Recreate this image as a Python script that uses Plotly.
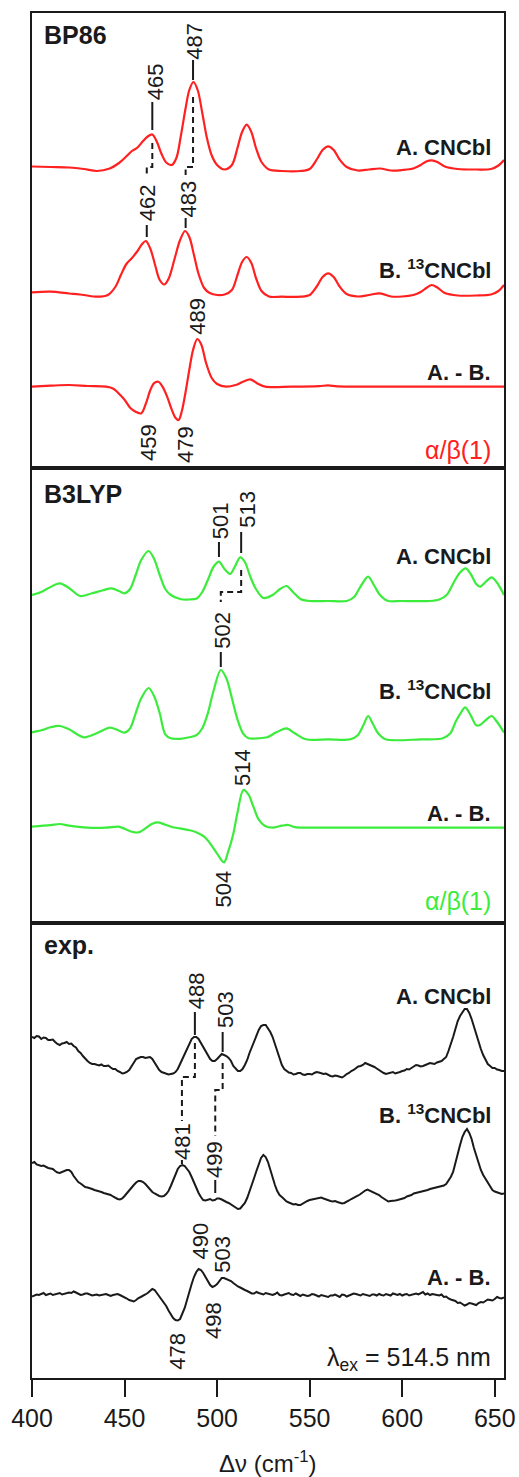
import plotly.graph_objects as go
from plotly.subplots import make_subplots

FONT = "Liberation Sans, Arial, sans-serif"
RED = "#ff2020"
GREEN = "#3cec3c"
BLACK = "#1a1a1a"

# ---------------- BP86 (computed) ----------------
bp_A_x = [400, 410, 420, 428, 435, 442, 447, 451, 454, 457, 460, 462.5, 465, 467.5, 470, 472.5, 475.5, 478,
          480.5, 483, 485, 487.2, 489.5, 492, 494.5, 497, 500, 504, 508, 511, 513.5, 516, 518.5, 521, 524, 528,
          535, 545, 550, 554, 557, 560, 563, 566, 570, 576, 582, 588, 594, 600, 606, 610, 613, 616, 619, 623,
          630, 640, 648, 652, 655]
bp_A = [1.5, 1, 0.5, -1, -3, -0.5, 5, 11.7, 17, 20.5, 27, 31.5, 33.5, 26, 14, 5.5, 3, 10,
        33, 60, 78, 86, 78, 55, 30, 13, 3, -1.5, 3, 20, 36, 43.3, 36, 20, 6, -1.5,
        -3, -3, -1, 9, 18, 21.7, 18, 9, 1, -2.5, -1.5, -0.5, -2.5, -2, -0.5, 3, 6.5, 7.7, 6, 1.5,
        -1, -1.5, -1, 2.5, 8]

bp_B_x = [400, 410, 420, 428, 435, 441, 445, 448, 451, 454, 457, 459.5, 461.5, 464, 466.5, 469, 471.5, 474,
          477, 480, 482.7, 485, 487.5, 490, 493, 496, 500, 504, 508, 511, 513.5, 516, 518.5, 521, 524, 528,
          535, 545, 550, 554, 557, 560, 563, 566, 570, 576, 582, 588, 594, 600, 606, 610, 613, 616, 619, 623,
          630, 640, 648, 652, 655]
bp_B = [2.7, 3.3, 1.5, 0, -1.7, 0, 8, 20, 31, 37, 44, 51, 54, 46, 30, 15, 10.5, 17,
        36, 55, 64, 58, 40, 21, 7, 2, 0, 0.5, 5, 20, 33, 38, 32, 17, 4, -1.5,
        -1.7, -1.7, 0, 9, 18, 21.7, 18, 9, 1, -1.5, 0, 1.7, -1.5, -1.5, 0, 3, 7, 10, 7.5, 2,
        -0.5, -0.5, 0.5, 4, 10]

bp_D_x = [400, 410, 420, 430, 440, 444, 447, 450, 453, 456, 459, 461.5, 464, 466, 468.3, 470.5, 473, 475.5,
          477.5, 479.2, 481, 483, 485, 487, 489.3, 491.5, 494, 497, 500, 505, 510, 514, 518, 522, 526, 540,
          555, 560, 565, 580, 600, 655]
bp_D = [0, 1, 1.7, 0.7, 0, -2, -7, -13, -21, -25, -26.7, -17, -3, 3.5, 5, 0, -10, -23,
        -31, -33.3, -24, -5, 17, 36.7, 47.7, 42, 24, 9, 2.7, 0, 1.7, 5, 7.3, 3, 0, 0,
        0.5, 1.3, 0.3, 0, 0, 0]

# ---------------- B3LYP (computed) ----------------
b3_A_x = [400, 405, 410, 415, 420, 426, 432, 438, 443, 447, 450, 453, 456, 459, 463, 466, 469, 472, 475, 480,
          485, 489, 492, 495, 498, 501, 504, 507, 509.5, 512.5, 515, 518, 521, 525, 530, 534, 537.5, 541, 545,
          550, 560, 570, 574, 578, 581.6, 585, 588, 592, 600, 615, 620, 624, 628, 631, 634.3, 637, 640, 642,
          645, 648.3, 651, 655]
b3_A = [0, 3, 8, 11.7, 7, -1, 1.5, 4.5, 6.7, 4, 1.7, 6, 20, 35, 44, 36, 20, 6, 0, -4,
        -4.5, -3.5, 3, 15, 28, 33.3, 26, 21, 28, 37.7, 33, 18, 6, -3, 0, 6, 9, 3, -4,
        -6, -6, -6, -2, 10, 18.3, 9, 0, -5.7, -6, -6, -4.5, 0, 13, 22, 26.7, 21, 11, 8.3,
        13, 17.7, 13, 0]

b3_B_x = [400, 405, 410, 415, 420, 428, 435, 442, 446, 450, 453, 456, 459, 463, 466, 469, 472, 475, 480, 485,
          489, 492, 495, 498, 502, 505, 508, 511, 514, 517, 522, 527, 532, 537.5, 542, 548, 560, 572, 576, 579,
          581.6, 584, 587, 591, 610, 622, 626, 629, 631.5, 634, 637, 640, 642, 645, 648.3, 651, 655]
b3_B = [1, 3, 6, 7.3, 4, -4, 0, 5.7, 3.5, 0.7, 5, 20, 35, 45.3, 37, 20, -1, -5, -5.5, -4,
        -1.7, 5, 20, 42, 63.3, 55, 35, 14, 0, -5, -5, -4, 1, 5, 0, -6, -6, -6, -2, 8,
        17.3, 10, 0, -6, -6, -5, 0, 12, 20, 26, 18, 8, 8.3, 13, 17.3, 12, 0.7]

b3_D_x = [400, 410, 415, 420, 430, 440, 446.7, 450, 454, 457.5, 461, 465, 468.3, 472, 476, 480, 485, 489,
          493, 496.2, 500, 503.7, 506, 508.8, 511, 514.2, 517, 519.6, 522.5, 525.9, 530, 535, 538.4, 542,
          550, 655]
b3_D = [1, 2.5, 3.7, 2, 0, 0, 1, -1, -4, -4.7, -1, 4, 5.3, 3, 0.5, -0.7, -2.5, -4.7,
        -9, -15.7, -26, -34.7, -24, -5.7, 15, 37.7, 33, 21, 8, 1.7, 0, 2, 2.7, 0.5,
        0, 0]

# ---------------- experiment (1.25 cm-1 sampling) ----------------
exp_x = [400, 401.25, 402.5, 403.75, 405, 406.25, 407.5, 408.75, 410, 411.25,
         412.5, 413.75, 415, 416.25, 417.5, 418.75, 420, 421.25, 422.5, 423.75,
         425, 426.25, 427.5, 428.75, 430, 431.25, 432.5, 433.75, 435, 436.25,
         437.5, 438.75, 440, 441.25, 442.5, 443.75, 445, 446.25, 447.5, 448.75,
         450, 451.25, 452.5, 453.75, 455, 456.25, 457.5, 458.75, 460, 461.25,
         462.5, 463.75, 465, 466.25, 467.5, 468.75, 470, 471.25, 472.5, 473.75,
         475, 476.25, 477.5, 478.75, 480, 481.25, 482.5, 483.75, 485, 486.25,
         487.5, 488.75, 490, 491.25, 492.5, 493.75, 495, 496.25, 497.5, 498.75,
         500, 501.25, 502.5, 503.75, 505, 506.25, 507.5, 508.75, 510, 511.25,
         512.5, 513.75, 515, 516.25, 517.5, 518.75, 520, 521.25, 522.5, 523.75,
         525, 526.25, 527.5, 528.75, 530, 531.25, 532.5, 533.75, 535, 536.25,
         537.5, 538.75, 540, 541.25, 542.5, 543.75, 545, 546.25, 547.5, 548.75,
         550, 551.25, 552.5, 553.75, 555, 556.25, 557.5, 558.75, 560, 561.25,
         562.5, 563.75, 565, 566.25, 567.5, 568.75, 570, 571.25, 572.5, 573.75,
         575, 576.25, 577.5, 578.75, 580, 581.25, 582.5, 583.75, 585, 586.25,
         587.5, 588.75, 590, 591.25, 592.5, 593.75, 595, 596.25, 597.5, 598.75,
         600, 601.25, 602.5, 603.75, 605, 606.25, 607.5, 608.75, 610, 611.25,
         612.5, 613.75, 615, 616.25, 617.5, 618.75, 620, 621.25, 622.5, 623.75,
         625, 626.25, 627.5, 628.75, 630, 631.25, 632.5, 633.75, 635, 636.25,
         637.5, 638.75, 640, 641.25, 642.5, 643.75, 645, 646.25, 647.5, 648.75,
         650, 651.25, 652.5, 653.75, 655]
exp_A = [38, 37, 39, 38.5, 36, 37.5, 37, 35, 35, 35.5,
         33, 31, 30, 31.5, 32, 33, 31, 31.5, 29, 27.5,
         24, 22, 19, 16, 14, 12, 11, 11, 10, 9.5,
         10.5, 9, 9, 9.5, 7.5, 6, 6, 4, 3, 1.5,
         2, 3, 5, 9, 13, 16, 17, 18, 18, 17,
         17.5, 18, 16, 12, 8, 5, 3, 2, 1.5, 0.5,
         1, 1.5, 3, 6, 11, 16, 22, 27, 32, 36,
         38, 38, 36, 32, 29, 25, 20, 16, 14, 14,
         16, 19, 21, 20, 19, 17, 14, 9, 6, 4,
         4, 6, 10, 15, 22, 28, 33, 39, 45, 49,
         50, 50, 47, 43, 38, 31, 24, 16, 10, 6,
         4, 2.5, 2, 0.5, 1, 2, 2, 0.5, 0, 1,
         1, 0.5, 2, 3, 2.5, 1.5, 1, 1.5, 0, -1,
         -1.5, -0.5, -1, -2, -2.5, -1, 1, 2, 4, 5,
         7, 8.5, 9, 10, 12, 11, 10.5, 9, 8, 6.5,
         5, 3, 2, 1, 1.5, 2.5, 3, 1.5, 2, 3,
         4, 4.5, 6, 5.5, 7, 8.5, 10, 9.5, 8.5, 9,
         10, 11, 12, 11.5, 11, 12.5, 13, 14, 16, 18,
         24, 30, 38, 46, 54, 59, 63, 66, 66, 62,
         56, 48, 40, 33, 26, 20, 15, 11, 9, 7,
         7, 5.5, 5, 4, 4]
exp_B = [37, 38, 35.5, 34.5, 34, 34.5, 33, 32, 31.5, 31,
         29, 27.5, 27, 28, 29, 30, 30, 28, 24, 21,
         18, 16.5, 15, 13, 12.5, 12, 11, 10, 9.5, 9,
         8, 7, 6.5, 6, 5, 3.5, 2, 1, 0.5, 1.5,
         4, 7, 10, 12.5, 15, 17.5, 19, 19, 18, 16,
         13, 10, 8, 6.5, 5, 4, 3.5, 4, 6, 9,
         14, 20, 27, 31, 34, 35, 34, 31, 28, 23,
         17, 11, 7, 3, 0, -0.5, 0.5, 1, -0.5, 0,
         1.5, 1.5, 0.5, -1, -2, -3, -4.5, -6.5, -8, -9,
         -8.5, -6, -3, 2, 8, 15, 22, 29, 36, 42,
         45, 43, 38, 30, 22, 15, 9, 5, 3, 0.5,
         -1.5, -2.5, -3.5, -4.5, -4, -5, -5, -3.5, -2, -1,
         0, 0.5, 1, 1.5, 2, 2.5, 1.5, 0.5, 0, -1,
         -1.5, -1, -2, -3, -3.5, -3, -2, -0.5, 1, 2,
         3.5, 4.5, 6, 8, 9.5, 10.5, 9.5, 8, 7, 6.5,
         5, 3, 1.5, 0, -1.5, -1, -1, -0.5, 0, 0.5,
         1, 2, 3.5, 4, 5, 6.5, 7, 7.5, 8, 9,
         9.5, 10, 11, 11.5, 12, 12.5, 13, 13.5, 14.5, 16,
         19, 23, 28, 36, 46, 55, 63, 68, 71, 67,
         61, 52, 44, 37, 30, 25, 21, 17, 13, 10,
         8.5, 7.5, 7, 6, 6.5]
exp_D = [-1.5, -0.5, 0.5, 0, 1, 2, 0, 1, 1.5, 0,
         0.5, 1, 2, 0.5, 1, 2, 2.5, 2, 3.5, 2.5,
         1, 0, 0.5, 1.5, 1.5, 0.5, -0.5, 0, 0.5, -0.5,
         0, 1, 1, 0, -1, 0, 0.5, 1, 0, -1,
         -2, -3.5, -5, -6, -6.5, -5, -3, -2, -1, 0.5,
         2, 4.5, 6, 5, 2, -1.5, -5, -8, -11, -15.5,
         -20, -23, -25, -25.5, -24, -19, -13, -5, 4, 11,
         18, 23, 26, 25, 22, 18, 14, 10, 8, 9,
         11, 14, 17, 17, 16, 15, 14, 12, 10, 8.5,
         7.5, 6, 5, 4, 3, 1.5, 1.5, 3, 2, 1,
         0.5, 2, 1.5, 0.5, 0, 1, 2.5, 0, -0.5, 0.5,
         1, 2, 0.5, 0, 1.5, 0, -1, 0.5, 0, -1,
         -0.5, 1, 0.5, -0.5, -1.5, 0, -0.5, -1.5, -2, -0.5,
         -0.5, 0.5, -1, -2, 0.5, 0, -1.5, -0.5, 0, 1.5,
         1, 0, -0.5, 1, 0.5, -0.5, -1, 0.5, 0.5, -0.5,
         1, 0, -0.5, 1, 0.5, -0.5, 1.5, 0.5, 0, 1,
         -0.5, 0.5, 1, -0.5, 0, 1, 1.5, 0.5, 2, 3,
         0.5, 1.5, 0, 1, 0.5, 0, -0.5, 0.5, -2, -1.5,
         -3.5, -4.5, -5, -6, -8, -7.5, -9, -10.5, -9.5, -8,
         -8.5, -9.5, -10, -8, -7, -7.5, -6, -4.5, -5, -5.5,
         -4, -2, -3, -3.5, -2.5]

# trace offsets (panel units)
offsets = {
    1: [300, 173, 81.3],
    2: [328, 189.7, 95.3],
    3: [303, 178, 83],
}

series = [
    (1, bp_A_x, bp_A, RED, "spline"), (1, bp_B_x, bp_B, RED, "spline"), (1, bp_D_x, bp_D, RED, "spline"),
    (2, b3_A_x, b3_A, GREEN, "spline"), (2, b3_B_x, b3_B, GREEN, "spline"), (2, b3_D_x, b3_D, GREEN, "spline"),
    (3, exp_x, exp_A, BLACK, "linear"), (3, exp_x, exp_B, BLACK, "linear"), (3, exp_x, exp_D, BLACK, "linear"),
]

# peak labels: (panel, text, x, y)
peak_labels = [
    (1, "465", 466.9, 386.5), (1, "487", 487.4, 427), (1, "462", 462.2, 265), (1, "483", 484.5, 269),
    (1, "489", 489.0, 152), (1, "459", 462.9, 25.5), (1, "479", 482.7, 23),
    (2, "501", 502.0, 402.5), (2, "513", 516.0, 414), (2, "502", 502.5, 293),
    (2, "514", 513.7, 155.5), (2, "504", 503.7, 34.5),
    (3, "488", 488.7, 387), (3, "503", 504.3, 368), (3, "481", 481.3, 236.5), (3, "499", 498.3, 219),
    (3, "490", 490.8, 136.5), (3, "503", 502.5, 124), (3, "498", 497.8, 57), (3, "478", 478.2, 27),
]
# guide lines: (panel, path points, dashed)
guides = [
    (1, [(465, 366), (465, 338)], False), (1, [(487, 408), (487, 388)], False),
    (1, [(465, 325), (465, 301), (462, 301), (462, 293)], True),
    (1, [(487, 371), (487, 301), (483, 301), (483, 293)], True),
    (1, [(462, 243), (462, 231)], False), (1, [(483, 250), (483, 240)], False),
    (2, [(501, 381), (501, 366)], False), (2, [(513, 391), (513, 370)], False),
    (2, [(513, 353), (513, 331), (502, 331), (502, 321)], True),
    (2, [(502, 271), (502, 256)], False),
    (3, [(488, 366), (488, 343)], False),
    (3, [(488, 335), (488, 301), (481, 301), (481, 257)], True),
    (3, [(481, 218), (481, 214)], False),
    (3, [(503, 346), (503, 326)], False),
    (3, [(503, 315), (503, 288), (499, 288), (499, 242)], True),
    (3, [(499, 198), (499, 185)], False),
]
# right-hand trace labels: (panel, text, y, color, bold)
trace_labels = [
    (1, "A. CNCbl", 321, BLACK, True), (1, "B. <sup>13</sup>CNCbl", 199, BLACK, True),
    (1, "A. - B.", 96, BLACK, True), (1, "α/β(1)", 18, RED, False),
    (2, "A. CNCbl", 367, BLACK, True), (2, "B. <sup>13</sup>CNCbl", 233, BLACK, True),
    (2, "A. - B.", 110, BLACK, True), (2, "α/β(1)", 22, GREEN, False),
    (3, "A. CNCbl", 382, BLACK, True), (3, "B. <sup>13</sup>CNCbl", 264, BLACK, True),
    (3, "A. - B.", 100.5, BLACK, True), (3, "λ<sub>ex</sub> = 514.5 nm", 19, BLACK, False),
]
panel_titles = [(1, "BP86", 433), (2, "B3LYP", 429.5), (3, "exp.", 433.4)]
x_ticks = [400, 450, 500, 550, 600, 650]

fig = make_subplots(rows=3, cols=1, shared_xaxes=True, vertical_spacing=0)

for panel, xs, ys, color, shape in series:
    idx = [s for s in series if s[0] == panel].index((panel, xs, ys, color, shape))
    off = offsets[panel][idx]
    fig.add_trace(go.Scatter(x=xs, y=[off + v for v in ys], mode="lines",
                             line=dict(color=color, width=2.2 if shape == "spline" else 2, shape=shape,
                                       smoothing=0.9 if shape == "spline" else None),
                             showlegend=False, hoverinfo="skip"), row=panel, col=1)

def ax(p):
    return ("x" if p == 1 else f"x{p}"), ("y" if p == 1 else f"y{p}")

for p, txt, x, y in peak_labels:
    xr, yr = ax(p)
    fig.add_annotation(x=x, y=y, xref=xr, yref=yr, text=txt, textangle=-90, showarrow=False,
                       font=dict(family=FONT, size=22, color=BLACK), xanchor="center", yanchor="middle")

for p, pts, dashed in guides:
    xr, yr = ax(p)
    path = "M " + " L ".join(f"{a} {b}" for a, b in pts)
    fig.add_shape(type="path", path=path, xref=xr, yref=yr,
                  line=dict(color=BLACK, width=2, dash="6px,4px" if dashed else "solid"))

for p, txt, y, color, bold in trace_labels:
    xr, yr = ax(p)
    fig.add_annotation(x=649, y=y, xref=xr, yref=yr, text=f"<b>{txt}</b>" if bold else txt,
                       showarrow=False, xanchor="right", yanchor="middle",
                       font=dict(family=FONT, size=22 if bold else 25, color=color))

for p, txt, y in panel_titles:
    xr, yr = ax(p)
    fig.add_annotation(x=405.3, y=y, xref=xr, yref=yr, text=f"<b>{txt}</b>", showarrow=False,
                       xanchor="left", yanchor="middle", font=dict(family=FONT, size=25, color=BLACK))

fig.add_annotation(x=0.5, y=-0.0615, xref="paper", yref="paper", text="Δν (cm<sup>-1</sup>)",
                   showarrow=False, xanchor="center", yanchor="middle",
                   font=dict(family=FONT, size=24, color=BLACK))

for r in (1, 2, 3):
    fig.update_yaxes(range=[0, 455], showticklabels=False, ticks="", showgrid=False, zeroline=False,
                     showline=True, mirror=True, linecolor=BLACK, linewidth=2, row=r, col=1)
    fig.update_xaxes(range=[400, 655], showgrid=False, zeroline=False, showline=True, mirror=True,
                     linecolor=BLACK, linewidth=2, row=r, col=1, automargin=False,
                     ticks="outside" if r == 3 else "", showticklabels=(r == 3),
                     tickvals=x_ticks, ticklen=17, tickwidth=2, tickcolor=BLACK,
                     tickfont=dict(family=FONT, size=25, color=BLACK))

fig.update_layout(width=519, height=1477, margin=dict(l=32, r=15, t=13, b=99),
                  paper_bgcolor="white", plot_bgcolor="white", font=dict(family=FONT))

fig.write_html("out.html", config={"displayModeBar": False},
               post_script="document.body.style.margin='0';document.body.style.overflow='hidden';")
